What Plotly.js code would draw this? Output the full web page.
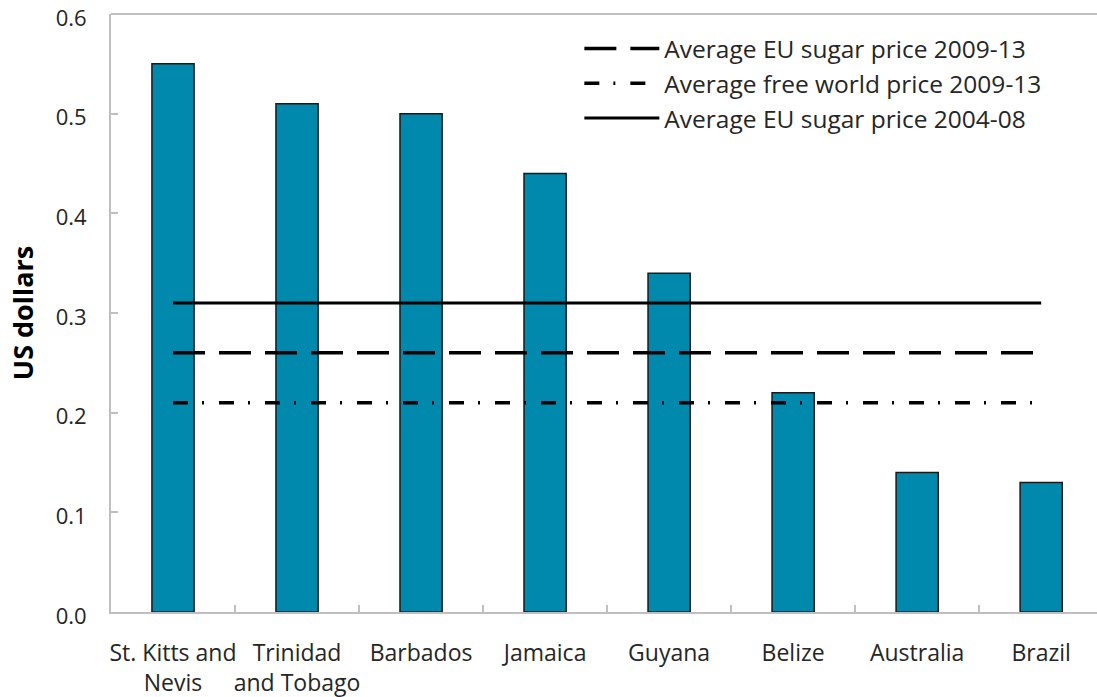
<!DOCTYPE html>
<html>
<head>
<meta charset="utf-8">
<script src="https://cdn.plot.ly/plotly-3.0.1.min.js"></script>
<style>html,body{margin:0;padding:0;background:#fff;}#chart{width:1097px;height:697px;}</style>
</head>
<body>
<div id="chart"></div>
<script>
const countries = ["St. Kitts and<br>Nevis", "Trinidad<br>and Tobago", "Barbados", "Jamaica", "Guyana", "Belize", "Australia", "Brazil"];
const costPerPound = [0.55, 0.51, 0.50, 0.44, 0.34, 0.22, 0.14, 0.13];
const euPrice0913 = [0.26, 0.26, 0.26, 0.26, 0.26, 0.26, 0.26, 0.26];
const worldPrice0913 = [0.21, 0.21, 0.21, 0.21, 0.21, 0.21, 0.21, 0.21];
const euPrice0408 = [0.31, 0.31, 0.31, 0.31, 0.31, 0.31, 0.31, 0.31];
const seriesNames = ["Average EU sugar price 2009-13", "Average free world price 2009-13", "Average EU sugar price 2004-08"];
const yTicks = [0, 0.1, 0.2, 0.3, 0.4, 0.5, 0.6];
const yTickText = ["0.0", "0.1", "0.2", "0.3", "0.4", "0.5", "0.6"];

const font = "Open Sans, sans-serif";
const traces = [
  {type: "bar", x: countries, y: costPerPound, showlegend: false,
   marker: {color: "#0089ad", line: {color: "#1a1a1a", width: 1.5}}, hoverinfo: "x+y"},
  {type: "scatter", mode: "lines", x: countries, y: euPrice0913, name: seriesNames[0],
   line: {color: "#000", width: 3.5, dash: "32px,14px"}},
  {type: "scatter", mode: "lines", x: countries, y: worldPrice0913, name: seriesNames[1],
   line: {color: "#000", width: 3.5, dash: "15px,14px,2px,15px"}},
  {type: "scatter", mode: "lines", x: countries, y: euPrice0408, name: seriesNames[2],
   line: {color: "#000", width: 3}}
];

const layout = {
  width: 1097, height: 697,
  margin: {l: 111, r: 0, t: 14, b: 85},
  paper_bgcolor: "#fff", plot_bgcolor: "#fff",
  font: {family: font, size: 22, color: "#262626"},
  bargap: 0.66,
  showlegend: true,
  legend: {x: 0.475, y: 0.98, xanchor: "left", yanchor: "top", bgcolor: "rgba(0,0,0,0)",
           font: {family: font, size: 24.5, color: "#262626"}, itemwidth: 75, tracegroupgap: 0},
  xaxis: {type: "category", range: [-0.5, 7.45], showline: true, linecolor: "#bfbfbf", linewidth: 2,
          ticks: "inside", tickson: "boundaries", ticklen: 7, tickcolor: "#bfbfbf", tickwidth: 2, tickangle: 0,
          showgrid: false, zeroline: false, ticklabelstandoff: 19, tickfont: {size: 23}},
  yaxis: {range: [0, 0.6], tickvals: yTicks, ticktext: yTickText,
          showline: true, linecolor: "#bfbfbf", linewidth: 2,
          ticks: "inside", ticklen: 7, tickcolor: "#bfbfbf", tickwidth: 2, showgrid: false, zeroline: false,
          ticklabelstandoff: 18, ticklabelshift: 4, ticklabeloverflow: "allow", tickfont: {size: 22},
          title: {text: "<b>US dollars</b>", font: {size: 27, color: "#000"}, standoff: 14}},
  shapes: [{type: "line", xref: "paper", yref: "paper", x0: 0, x1: 1, y0: 1, y1: 1,
            line: {color: "#bfbfbf", width: 2}}]
};

Plotly.newPlot("chart", traces, layout, {displayModeBar: false, staticPlot: true});
</script>
</body>
</html>
